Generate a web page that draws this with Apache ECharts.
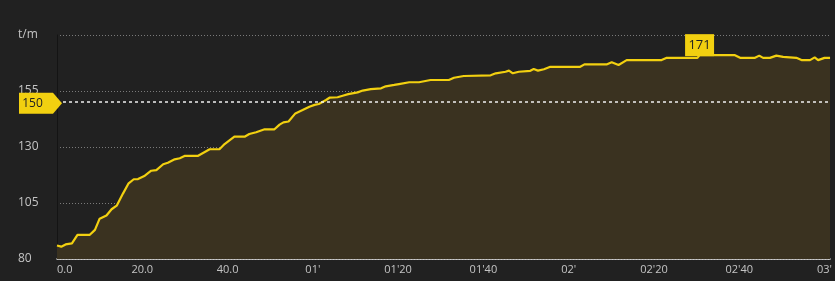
<!DOCTYPE html>
<html>
<head>
<meta charset="utf-8">
<script src="https://cdn.jsdelivr.net/npm/echarts@6/dist/echarts.min.js"></script>
<style>
html,body{margin:0;padding:0;background:#212121;}
#c{width:835px;height:281px;}
</style>
</head>
<body>
<div id="c"></div>
<script>
// elapsed time in seconds
const times = [0,1,2,3.5,4.8,7.7,8.9,10,11.6,12.8,14,15.5,16.8,18,19,20.6,22.1,23.3,24.9,26,27.6,28.8,29.9,33,35.8,38.1,39.3,41.6,44,45.1,46.7,48.7,51,52.2,53.1,54.3,55.9,57.6,59.2,60.4,61.4,63.1,63.9,65.8,67,68.3,70.5,71.7,73.6,76,77.1,79.1,80.2,82.6,84.9,87.6,91.9,93.1,95.4,101.7,102.9,105.2,106,106.9,108.3,111,111.8,112.8,114.2,115.7,122.7,123.7,129,130.1,131.7,133.6,141.8,143,150.2,150.7,159,160.2,163.7,164.7,165.6,167.2,168.7,170.3,173.4,174.6,176.6,177.7,178.5,180,181.3];
// stroke rate (t/m)
const rates = [86,85.5,86.5,87,90.8,90.8,93,98,99.4,102.2,103.8,109.3,113.8,115.6,115.7,117.2,119.4,119.7,122.3,123,124.5,125,126,126,129,129,131.3,134.6,134.6,135.8,136.6,137.9,137.9,140,141,141.4,145,146.5,148,148.8,149.2,151,152,152.2,152.9,153.6,154.4,155.2,155.8,156.2,157.1,157.7,158.1,158.9,158.9,159.9,159.9,160.9,161.7,162,162.9,163.6,164.1,162.9,163.6,164,164.8,164.1,164.7,165.8,165.8,166.9,166.9,167.8,166.6,168.8,168.8,169.8,169.8,171,171,169.8,169.8,170.8,169.8,169.8,170.8,170.2,169.8,168.8,168.8,170,168.8,169.8,169.8];
const yTicks = [80,105,130,155,180];
const xTickStep = 20;
const refRate = 150;
const unitLabel = 't/m';

const data = times.map((t,i)=>[t,rates[i]]);
let maxIdx = 0;
rates.forEach((v,i)=>{ if (v > rates[maxIdx]) maxIdx = i; });

function fmtTime(v){
  if (Math.abs(v % xTickStep) > 1e-6) return '';
  if (v < 60) return v.toFixed(1);
  const m = Math.floor(v/60), s = Math.round(v - m*60);
  return (m<10?'0':'') + m + "'" + (s ? (s<10?'0':'') + s : '');
}

const chart = echarts.init(document.getElementById('c'));
chart.setOption({
  backgroundColor: '#212121',
  animation: false,
  grid: {left: 57, right: 3, top: 35, bottom: 22},
  xAxis: {
    type: 'value', min: 0, max: times[times.length-1], interval: xTickStep,
    axisLine: {show: true, lineStyle: {color: '#e6e6e6', width: 1.5}},
    axisTick: {show: false},
    splitLine: {show: false},
    axisLabel: {color: '#c4c4c4', fontSize: 11, fontFamily: 'Open Sans', margin: 5,
      alignMinLabel: 'left', formatter: fmtTime}
  },
  yAxis: {
    type: 'value', min: yTicks[0], max: yTicks[yTicks.length-1], interval: 25,
    axisLine: {show: true, lineStyle: {color: '#141414', width: 1}},
    axisTick: {show: false},
    splitLine: {show: true, lineStyle: {color: '#7a7a7a', type: [1,2], width: 1}},
    axisLabel: {color: '#c4c4c4', fontSize: 12, fontFamily: 'Open Sans', margin: 39, align: 'left',
      formatter: v => v === yTicks[yTicks.length-1] ? unitLabel : String(v)}
  },
  series: [{
    type: 'line',
    data: data,
    showSymbol: false,
    symbol: 'none',
    lineStyle: {color: '#f2d010', width: 2.2},
    areaStyle: {color: '#3a3220', opacity: 1},
    markLine: {
      silent: true, symbol: 'none',
      lineStyle: {color: '#f0f0f0', type: [3,3], width: 1.5},
      label: {show: false},
      data: [{yAxis: refRate}]
    },
    markPoint: {
      silent: true,
      data: [
        {coord: [times[maxIdx], rates[maxIdx]], symbol: 'rect', symbolSize: [29,22], symbolOffset: [0,-10],
         itemStyle: {color: '#f2d010'},
         label: {show: true, formatter: String(Math.round(rates[maxIdx])), color: '#222', fontSize: 13, fontFamily: 'Open Sans'}},
        {coord: [0, refRate], symbol: 'path://M0,0 L34,0 L43,10 L34,20 L0,20 Z', symbolSize: [43,21], symbolOffset: [-16.5,1],
         symbolKeepAspect: false,
         itemStyle: {color: '#f2d010'},
         label: {show: true, formatter: String(refRate), color: '#222', fontSize: 12, fontFamily: 'Open Sans', offset: [-8,0]}}
      ]
    }
  }]
});
</script>
</body>
</html>
